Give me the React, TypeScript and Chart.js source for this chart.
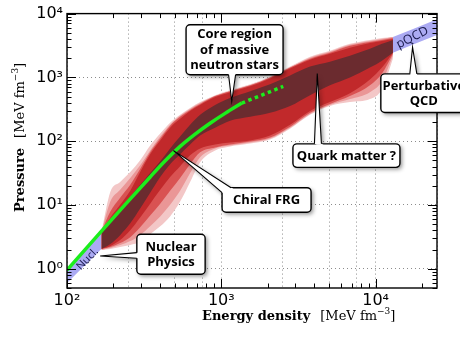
import React, { useEffect, useRef } from 'react';
import { Chart, registerables } from 'chart.js';

Chart.register(...registerables);

// ---------- data (energy density in MeV/fm^3, pressure in MeV/fm^3) ----------
const EPS = [167, 191, 221, 257, 298, 346, 402, 466, 541, 628, 729, 912, 1140, 1540, 2070, 2790, 3760, 5060, 6820, 9190, 11000, 12950];

const DARK_UP = [3.75, 5.74, 8.8, 13.5, 20.7, 31.7, 48.6, 77.1, 118, 181, 259, 369, 474, 608, 780, 1074, 1479, 1767, 2188, 2807, 3354, 3866];
const DARK_LO = [2.04, 2.44, 3.37, 5.16, 8.8, 15.5, 27.5, 43.6, 62.3, 88.9, 122.5, 163, 209, 241, 278, 356, 527, 752, 1000, 1427, 1831, 2435];
const CRIMSON_UP = [3.75, 6.39, 10.1, 16.7, 32.8, 62.3, 102.5, 163, 224, 298, 369, 491, 587, 726, 965, 1377, 1898, 2349, 2909, 3475, 3731, 4006];
const CRIMSON_LO = [2.04, 2.28, 2.82, 4.02, 6.39, 10.5, 17.3, 27.5, 40.6, 60.1, 77.1, 88.9, 95.5, 102.5, 122.5, 181, 298, 411, 566, 931, 1427, 2435];
const RED_UP = [3.75, 7.91, 13.0, 20.7, 36.5, 66.9, 110, 175, 241, 309, 382, 509, 608, 752, 1000, 1427, 1967, 2435, 3123, 3601, 3866, 4152];
const RED_LO = [2.04, 2.19, 2.53, 3.13, 4.47, 6.86, 10.5, 16.7, 26.5, 43.6, 66.9, 79.9, 88.9, 98.9, 114, 169, 278, 382, 509, 752, 1153, 2349];
const PINK_UP = [3.75, 11.3, 17.3, 26.5, 42.1, 71.8, 118, 181, 250, 320, 396, 509, 608, 752, 1000, 1427, 2038, 2523, 3236, 3731, 4006, 4303];
const PINK_LO = [1.97, 2.12, 2.36, 2.72, 3.37, 4.64, 6.62, 10.1, 16.7, 31.7, 56.0, 77.1, 85.8, 95.5, 110, 163, 268, 369, 457, 587, 868, 2188];
const LIGHT_UP = [3.75, 16.1, 23.0, 32.8, 50.3, 85.8, 132, 195, 259, 332, 411, 527, 630, 780, 1036, 1479, 2112, 2615, 3354, 3866, 4152, 4303];
const LIGHT_LO = [1.97, 2.04, 2.19, 2.36, 2.62, 3.49, 4.64, 6.62, 11.3, 23.0, 46.9, 71.8, 82.8, 92.1, 106, 157, 259, 356, 411, 457, 653, 1967];

const NUCL_EPS = [100, 167];
const NUCL_UP = [1.0, 3.75];
const NUCL_LO = [0.6, 2.04];

const PQCD_EPS = [12950, 25000];
const PQCD_UP = [4303, 8166];
const PQCD_LO = [2435, 4620];

const GREEN_EPS = [100, 164, 346, 433, 541, 677, 846, 1058, 1358];
const GREEN_P = [0.95, 3.7, 27.5, 49.4, 82.8, 129, 191, 273, 396];
const GREEN_DOT_EPS = [1358, 2520];
const GREEN_DOT_P = [396, 721];

const X_GRID = [100, 250, 500, 750, 1000, 2500, 5000, 7500, 10000, 25000];
const Y_GRID = [1, 10, 100, 1000, 10000];

const BAND_LABELS = [
  { text: 'pQCD', x: 17300, y: 4200, angle: -27, size: 12.5 },
  { text: 'Nucl.', x: 136, y: 1.42, angle: -46, size: 11 },
];

const CALLOUTS = [
  { lines: ['Core region', 'of massive', 'neutron stars'], cx: 1219, cy: 2708, w: 97, h: 50, tipX: 1169, tipY: 421, base: [-6, 25, 1, 25] },
  { lines: ['Quark matter ?'], cx: 6471, cy: 59.5, w: 107, h: 23.5, tipX: 4188, tipY: 1153, base: [-32, -11.75, -25, -11.75] },
  { lines: ['Perturbative', 'QCD'], cx: 20540, cy: 566, w: 86, h: 38.6, tipX: 17360, tipY: 2982, base: [-14, -19.3, -7, -19.3] },
  { lines: ['Chiral FRG'], cx: 1965, cy: 12.0, w: 89, h: 24.5, tipX: 490, tipY: 71.1, base: [-44.5, -7.25, -35.5, -12.25] },
  { lines: ['Nuclear', 'Physics'], cx: 472, cy: 1.69, w: 68.3, h: 40, tipX: 164, tipY: 1.59, base: [-34.15, -1.6, -34.15, 4] },
];

// ---------- helpers ----------
const pts = (xs: number[], ys: number[]) => xs.map((x, i) => ({ x, y: ys[i] }));

function band(xs: number[], up: number[], lo: number[], color: string, order: number) {
  return [
    { data: pts(xs, up), fill: '+1', backgroundColor: color, borderWidth: 0, pointRadius: 0, order, cubicInterpolationMode: 'monotone' },
    { data: pts(xs, lo), fill: false, backgroundColor: color, borderWidth: 0, pointRadius: 0, order, cubicInterpolationMode: 'monotone' },
  ];
}

const SUP: Record<number, string> = { 0: '⁰', 1: '¹', 2: '²', 3: '³', 4: '⁴' };
const decadeLabel = (v: number) => {
  const l = Math.log10(v);
  const r = Math.round(l);
  return Math.abs(l - r) < 1e-9 ? '10' + SUP[r] : '';
};

function roundRect(ctx: CanvasRenderingContext2D, x: number, y: number, w: number, h: number, r: number) {
  ctx.beginPath();
  ctx.moveTo(x + r, y);
  ctx.lineTo(x + w - r, y);
  ctx.arcTo(x + w, y, x + w, y + r, r);
  ctx.lineTo(x + w, y + h - r);
  ctx.arcTo(x + w, y + h, x + w - r, y + h, r);
  ctx.lineTo(x + r, y + h);
  ctx.arcTo(x, y + h, x, y + h - r, r);
  ctx.lineTo(x, y + r);
  ctx.arcTo(x, y, x + r, y, r);
  ctx.closePath();
}

function drawParts(ctx: CanvasRenderingContext2D, parts: { t: string; f: string; dy?: number; gap?: number }[], x: number, y: number) {
  let cx = x;
  for (const p of parts) {
    cx += p.gap || 0;
    ctx.font = p.f;
    ctx.fillText(p.t, cx, y + (p.dy || 0));
    cx += ctx.measureText(p.t).width;
  }
}

const decorPlugin = {
  id: 'decor',
  afterDatasetsDraw(chart: any) {
    const { ctx, chartArea: a, scales } = chart;
    const sx = scales.x;
    const sy = scales.y;

    // labels along bands
    for (const b of BAND_LABELS) {
      ctx.save();
      ctx.translate(sx.getPixelForValue(b.x), sy.getPixelForValue(b.y));
      ctx.rotate((b.angle * Math.PI) / 180);
      ctx.font = `${b.size}px "Open Sans"`;
      ctx.fillStyle = '#17174a';
      ctx.textAlign = 'center';
      ctx.textBaseline = 'middle';
      ctx.fillText(b.text, 0, 0);
      ctx.restore();
    }

    // frame + inward ticks
    ctx.save();
    ctx.strokeStyle = '#000';
    ctx.lineWidth = 1;
    ctx.beginPath();
    const xt: [number, number][] = [];
    for (let d = 100; d <= 10000; d *= 10) {
      for (let k = 1; k <= 9; k++) {
        const v = d * k;
        if (v >= 100 && v <= 25000) xt.push([v, k === 1 ? 9 : 4.5]);
      }
    }
    for (const [v, len] of xt) {
      const px = Math.round(sx.getPixelForValue(v)) + 0.5;
      ctx.moveTo(px, a.bottom);
      ctx.lineTo(px, a.bottom - len);
      ctx.moveTo(px, a.top);
      ctx.lineTo(px, a.top + len);
    }
    const yt: [number, number][] = [];
    for (let d = 0.1; d <= 10000; d *= 10) {
      for (let k = 1; k <= 9; k++) {
        const v = d * k;
        if (v >= 0.5 && v <= 10000.001) yt.push([v, k === 1 ? 9 : 4.5]);
      }
    }
    for (const [v, len] of yt) {
      const py = Math.round(sy.getPixelForValue(v)) + 0.5;
      ctx.moveTo(a.left, py);
      ctx.lineTo(a.left + len, py);
      ctx.moveTo(a.right, py);
      ctx.lineTo(a.right - len, py);
    }
    ctx.stroke();
    ctx.lineWidth = 1.4;
    ctx.strokeRect(a.left, a.top, a.right - a.left, a.bottom - a.top);
    ctx.restore();

    // callouts
    for (const c of CALLOUTS) {
      const cx = sx.getPixelForValue(c.cx);
      const cy = sy.getPixelForValue(c.cy);
      const tx = sx.getPixelForValue(c.tipX);
      const ty = sy.getPixelForValue(c.tipY);
      const x0 = cx - c.w / 2;
      const y0 = cy - c.h / 2;
      const b1 = { x: cx + c.base[0], y: cy + c.base[1] };
      const b2 = { x: cx + c.base[2], y: cy + c.base[3] };
      const inward = (p: { x: number; y: number }) => {
        const dx = cx - p.x, dy = cy - p.y;
        const n = Math.hypot(dx, dy) || 1;
        return { x: p.x + (dx / n) * 2.5, y: p.y + (dy / n) * 2.5 };
      };
      const i1 = inward(b1);
      const i2 = inward(b2);
      ctx.save();
      ctx.shadowColor = 'rgba(0,0,0,0.45)';
      ctx.shadowBlur = 4;
      ctx.shadowOffsetX = 2;
      ctx.shadowOffsetY = 2;
      ctx.fillStyle = '#fff';
      roundRect(ctx, x0, y0, c.w, c.h, 4);
      ctx.fill();
      ctx.beginPath();
      ctx.moveTo(tx, ty);
      ctx.lineTo(b1.x, b1.y);
      ctx.lineTo(b2.x, b2.y);
      ctx.closePath();
      ctx.fill();
      ctx.restore();

      ctx.save();
      ctx.fillStyle = '#fff';
      ctx.strokeStyle = '#000';
      ctx.lineWidth = 1.4;
      roundRect(ctx, x0, y0, c.w, c.h, 4);
      ctx.fill();
      ctx.stroke();
      ctx.beginPath();
      ctx.moveTo(tx, ty);
      ctx.lineTo(b1.x, b1.y);
      ctx.lineTo(i1.x, i1.y);
      ctx.lineTo(i2.x, i2.y);
      ctx.lineTo(b2.x, b2.y);
      ctx.closePath();
      ctx.fill();
      ctx.lineWidth = 1.1;
      ctx.beginPath();
      ctx.moveTo(b1.x, b1.y);
      ctx.lineTo(tx, ty);
      ctx.lineTo(b2.x, b2.y);
      ctx.stroke();
      ctx.fillStyle = '#000';
      ctx.font = '700 13px "Open Sans"';
      ctx.textAlign = 'center';
      ctx.textBaseline = 'middle';
      const n = c.lines.length;
      c.lines.forEach((t, i) => ctx.fillText(t, cx, cy + (i - (n - 1) / 2) * 15.5 + 0.5));
      ctx.restore();
    }
  },
  afterDraw(chart: any) {
    const { ctx } = chart;
    ctx.save();
    ctx.fillStyle = '#000';
    ctx.textAlign = 'left';
    ctx.textBaseline = 'alphabetic';
    const bold = 'bold 13px "DejaVu Serif"';
    const reg = '13px "DejaVu Serif"';
    const sup = '9px "DejaVu Serif"';
    drawParts(ctx, [
      { t: 'Energy density', f: bold },
      { t: '[MeV fm', f: reg, gap: 10 },
      { t: '−3', f: sup, dy: -6 },
      { t: ']', f: reg },
    ], 202, 320);
    ctx.translate(24, 212);
    ctx.rotate(-Math.PI / 2);
    drawParts(ctx, [
      { t: 'Pressure', f: bold },
      { t: '[MeV fm', f: reg, gap: 10 },
      { t: '−3', f: sup, dy: -6 },
      { t: ']', f: reg },
    ], 0, 0);
    ctx.restore();
  },
};

export default function App() {
  const ref = useRef<HTMLCanvasElement | null>(null);

  useEffect(() => {
    document.body.style.margin = '0';
    const canvas = ref.current;
    if (!canvas) return;

    const datasets: any[] = [
      ...band(EPS, LIGHT_UP, LIGHT_LO, '#f3c7c7', 10),
      ...band(EPS, PINK_UP, PINK_LO, '#ea9696', 9),
      ...band(EPS, RED_UP, RED_LO, '#d95252', 8),
      ...band(EPS, CRIMSON_UP, CRIMSON_LO, '#c1292b', 7),
      ...band(EPS, DARK_UP, DARK_LO, '#6b2b2f', 6),
      ...band(NUCL_EPS, NUCL_UP, NUCL_LO, '#abaaf3', 5),
      ...band(PQCD_EPS, PQCD_UP, PQCD_LO, '#abaaf3', 5),
      {
        data: pts(GREEN_EPS, GREEN_P), borderColor: '#1cee1c', borderWidth: 3.5, pointRadius: 0,
        fill: false, order: 1, tension: 0.35, borderCapStyle: 'butt',
      },
      {
        data: pts(GREEN_DOT_EPS, GREEN_DOT_P), borderColor: '#1cee1c', borderWidth: 3.5, pointRadius: 0,
        fill: false, order: 1, borderDash: [3.5, 3.5], borderCapStyle: 'butt',
      },
    ];

    const tickFont = { family: '"DejaVu Sans"', size: 16 };

    const chart = new Chart(canvas, {
      type: 'line',
      data: { datasets },
      options: {
        animation: false,
        responsive: false,
        devicePixelRatio: 1,
        layout: { padding: { top: 9, right: 23, bottom: 0, left: 0 } },
        plugins: { legend: { display: false }, tooltip: { enabled: false } },
        scales: {
          x: {
            type: 'logarithmic',
            min: 100,
            max: 25000,
            afterBuildTicks: (s: any) => { s.ticks = X_GRID.map((v) => ({ value: v })); },
            afterFit: (s: any) => { s.height = 50; },
            ticks: { autoSkip: false, maxRotation: 0, padding: 3, color: '#000', font: tickFont, callback: (v: any) => decadeLabel(Number(v)) },
            grid: { color: '#8c8c8c', lineWidth: 1, drawTicks: false },
            border: { display: false, dash: [1, 3] },
          },
          y: {
            type: 'logarithmic',
            min: 0.5,
            max: 10000,
            afterBuildTicks: (s: any) => { s.ticks = Y_GRID.map((v) => ({ value: v })); },
            afterFit: (s: any) => { s.width = 67; },
            ticks: { autoSkip: false, padding: 4, color: '#000', font: tickFont, callback: (v: any) => decadeLabel(Number(v)) },
            grid: { color: '#8c8c8c', lineWidth: 1, drawTicks: false },
            border: { display: false, dash: [1, 3] },
          },
        },
      },
      plugins: [decorPlugin],
    } as any);

    return () => chart.destroy();
  }, []);

  return (
    <div style={{ width: 460, height: 338, background: '#fff' }}>
      <canvas ref={ref} width={460} height={338} style={{ display: 'block' }} />
    </div>
  );
}
